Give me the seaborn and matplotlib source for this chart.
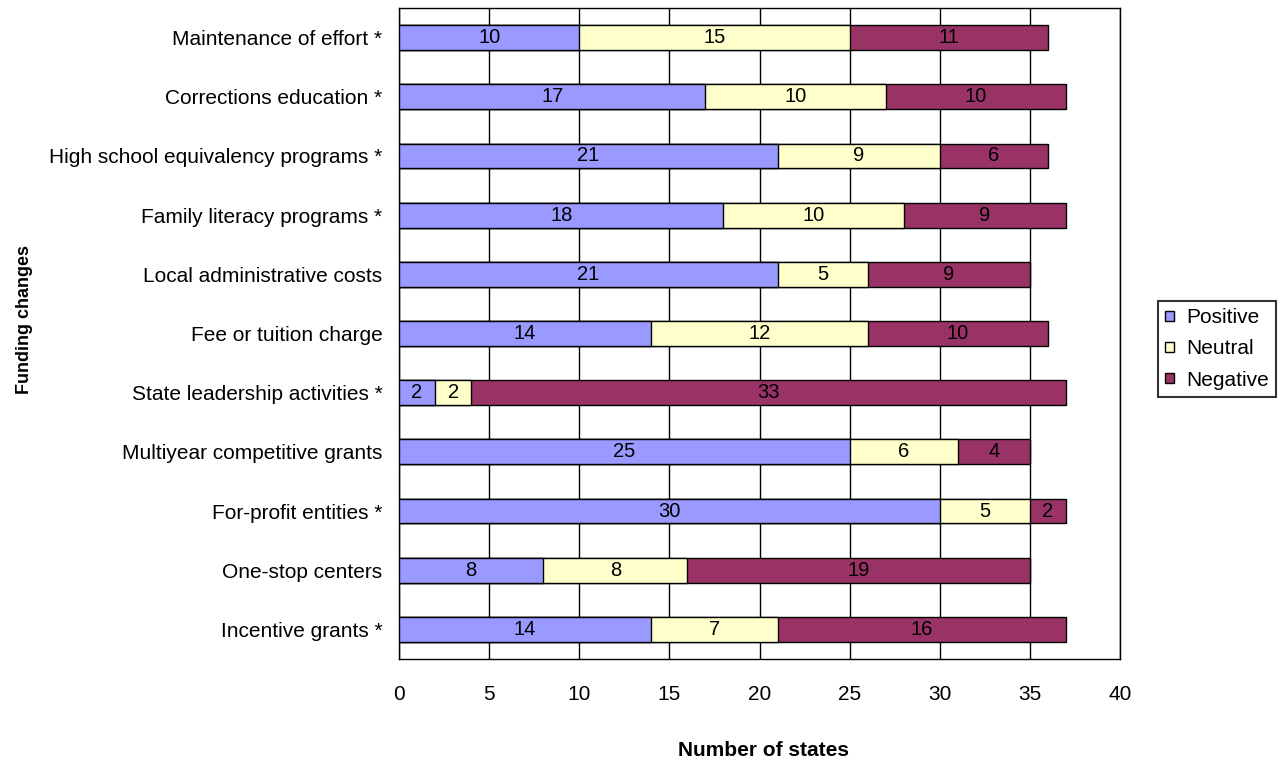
import matplotlib
matplotlib.use("Agg")
import matplotlib.pyplot as plt
import seaborn as sns
import numpy as np
import pandas as pd
from matplotlib.patches import Patch

categories = [
    "Maintenance of effort *",
    "Corrections education *",
    "High school equivalency programs *",
    "Family literacy programs *",
    "Local administrative costs",
    "Fee or tuition charge",
    "State leadership activities *",
    "Multiyear competitive grants",
    "For-profit entities *",
    "One-stop centers",
    "Incentive grants *",
]
positive = [10, 17, 21, 18, 21, 14, 2, 25, 30, 8, 14]
neutral = [15, 10, 9, 10, 5, 12, 2, 6, 5, 8, 7]
negative = [11, 10, 6, 9, 9, 10, 33, 4, 2, 19, 16]
x_ticks = [0, 5, 10, 15, 20, 25, 30, 35, 40]

col_pos = "#9999FF"
col_neu = "#FFFFCC"
col_neg = "#993366"

sns.set_theme(style="white")
plt.rcParams["font.family"] = ["Liberation Sans", "DejaVu Sans"]
plt.rcParams["text.color"] = "black"

df = pd.DataFrame({"cat": categories, "pos": positive, "neu": neutral, "neg": negative})
df["c1"] = df["pos"]
df["c2"] = df["pos"] + df["neu"]
df["c3"] = df["pos"] + df["neu"] + df["neg"]

fig = plt.figure(figsize=(12.87, 7.62), dpi=100)
ax = fig.add_axes([399 / 1287, 1 - 659 / 762, (1120 - 399) / 1287, (659 - 8) / 762])

bw = 0.42
for col, color in [("c3", col_neg), ("c2", col_neu), ("c1", col_pos)]:
    sns.barplot(data=df, x=col, y="cat", orient="h", color=color, width=bw,
                edgecolor="black", linewidth=1.0, saturation=1, ax=ax, zorder=3)

for i, row in df.iterrows():
    segs = [(0, row["pos"]), (row["c1"], row["neu"]), (row["c2"], row["neg"])]
    for left, val in segs:
        ax.text(left + val / 2, i, str(val), ha="center", va="center",
                fontsize=14.5, color="black", zorder=5)

ax.set_xlim(0, 40)
ax.set_ylim(len(categories) - 0.5, -0.5)
ax.set_xticks(x_ticks)
ax.set_xticklabels([str(t) for t in x_ticks])
ax.xaxis.grid(True, color="black", linewidth=1.0, zorder=0)
ax.yaxis.grid(False)
ax.set_axisbelow(True)
ax.tick_params(axis="x", length=0, pad=19, labelsize=15, colors="black")
ax.tick_params(axis="y", length=0, pad=12, labelsize=15, colors="black")
ax.set_xlabel("")
ax.set_ylabel("")
for s in ax.spines.values():
    s.set_visible(True)
    s.set_color("black")
    s.set_linewidth(1.0)

fig.text(763 / 1287, 1 - 751 / 762, "Number of states", ha="center", va="center",
         fontsize=15, fontweight="bold", color="black")
fig.text(25 / 1287, 1 - 319 / 762, "Funding changes", ha="center", va="center",
         rotation=90, fontsize=13, fontweight="bold", color="black")

handles = [Patch(facecolor=col_pos, edgecolor="black", label="Positive"),
           Patch(facecolor=col_neu, edgecolor="black", label="Neutral"),
           Patch(facecolor=col_neg, edgecolor="black", label="Negative")]
leg = fig.legend(handles=handles, loc="center left", bbox_to_anchor=(1158 / 1287, 1 - 349 / 762),
                 frameon=True, fancybox=False, fontsize=15, handlelength=0.4, handleheight=0.4,
                 handletextpad=0.6, labelspacing=0.58, borderpad=0.35, borderaxespad=0)
leg.get_frame().set_edgecolor("black")
leg.get_frame().set_linewidth(1.5)
for t in leg.get_texts():
    t.set_color("black")

fig.savefig("out.png", dpi=100)
